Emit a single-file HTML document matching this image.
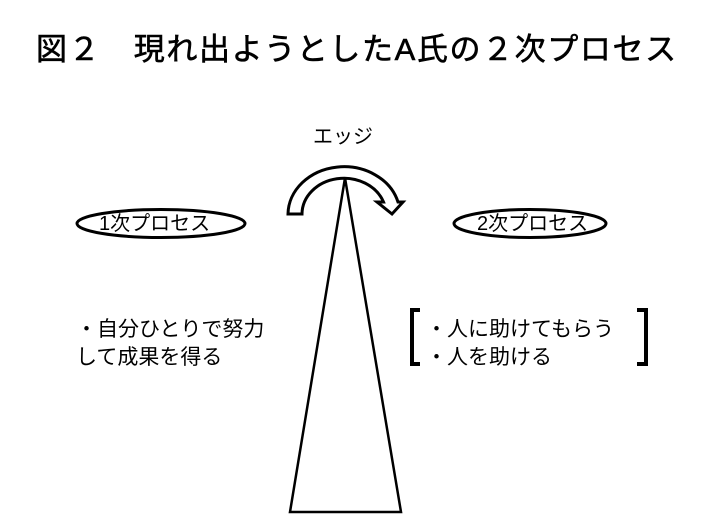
<!DOCTYPE html>
<html><head><meta charset="utf-8"><style>
body{margin:0;background:#fff;width:724px;height:514px;overflow:hidden;position:relative;font-family:"Liberation Sans","Noto Sans CJK JP",sans-serif;color:#000}
.t{position:absolute;white-space:nowrap;line-height:1}
</style></head><body>
<div class="t" style="left:36px;top:34px;font-size:31px;letter-spacing:1.6px;-webkit-text-stroke:0.6px #000">図２　現れ出ようとしたA氏の２次プロセス</div>
<div class="t" style="left:313px;top:127px;font-size:20px">エッジ</div>
<svg width="724" height="514" style="position:absolute;left:0;top:0">
<polygon points="345,178 290,512 401,512" fill="#fff" stroke="#000" stroke-width="2.5"/>
<path d="M288,214 A56,48 0 0 1 398,202 L403,202 L392,214 L377,202 L383.5,202 A42,36 0 0 0 302,214 Z" fill="#fff" stroke="#000" stroke-width="3" stroke-linejoin="miter"/>
<ellipse cx="161" cy="223.5" rx="84" ry="14" fill="#fff" stroke="#000" stroke-width="3"/>
<ellipse cx="530" cy="223.5" rx="76" ry="14" fill="#fff" stroke="#000" stroke-width="3"/>
<path d="M420,310 H412 V364 H420" fill="none" stroke="#000" stroke-width="4"/>
<path d="M637,310 H646 V364 H637" fill="none" stroke="#000" stroke-width="4"/>
</svg>
<div class="t" style="left:99px;top:214px;font-size:20px">1次プロセス</div>
<div class="t" style="left:477px;top:214px;font-size:20px">2次プロセス</div>
<div class="t" style="left:76px;top:316px;font-size:21px;line-height:28px">・自分ひとりで努力<br>して成果を得る</div>
<div class="t" style="left:426px;top:316px;font-size:21px;line-height:28px">・人に助けてもらう<br>・人を助ける</div>
</body></html>
